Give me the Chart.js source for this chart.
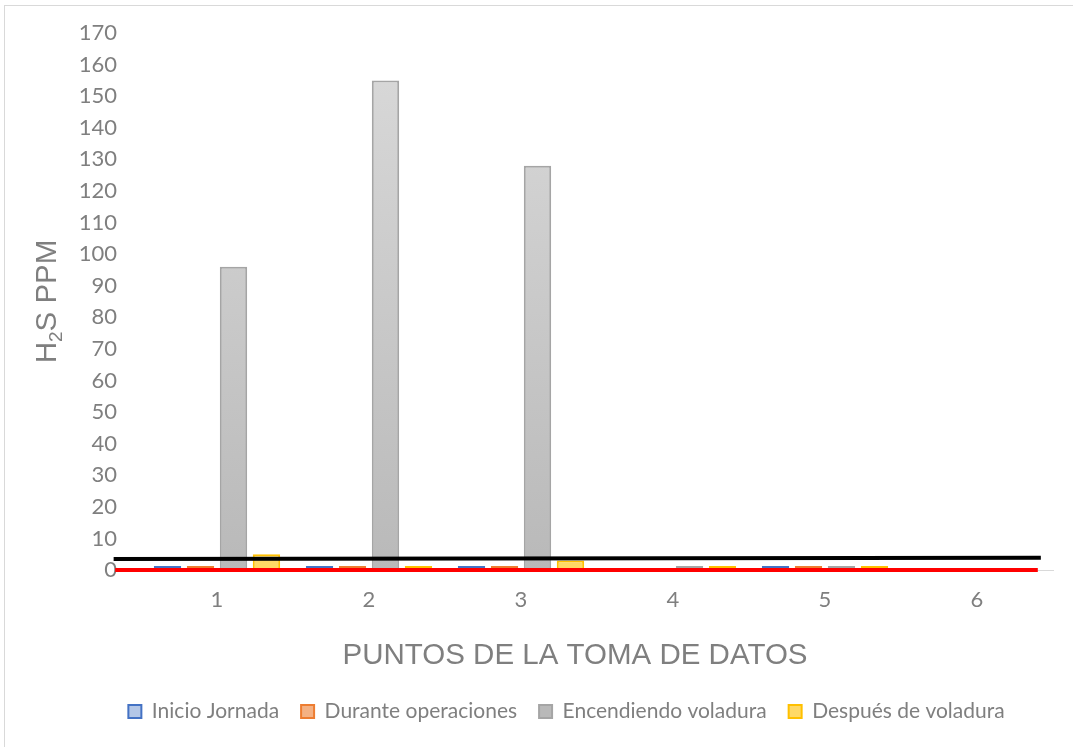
<!DOCTYPE html>
<html>
<head>
<meta charset="utf-8">
<script src="https://cdn.jsdelivr.net/npm/chart.js@4.4.1/dist/chart.umd.min.js"></script>
<style>
  html, body { margin: 0; padding: 0; background: #ffffff; overflow: hidden; }
  #wrap { position: relative; width: 1073px; height: 747px; overflow: hidden; }
  #frame { position: absolute; left: 4px; top: 5px; width: 1200px; height: 900px;
           border-left: 1px solid #d9d9d9; border-top: 1px solid #d9d9d9; pointer-events: none; }
  canvas { position: absolute; left: 0; top: 0; }
</style>
</head>
<body>
<div id="wrap">
  <canvas id="chart" width="1073" height="747"></canvas>
  <div id="frame"></div>
</div>
<script>
// Sampling points (x axis categories)
const categories = ['1', '2', '3', '4', '5', '6'];

// H2S readings in ppm for each moment of the shift
const inicioJornada       = [1.3, 1.3, 1.3, 0, 1.3, 0];
const duranteOperaciones  = [1.3, 1.3, 1.3, 0, 1.3, 0];
const encendiendoVoladura = [96, 155, 128, 1.3, 1.3, 0];
const despuesVoladura     = [5, 1.3, 3, 1.3, 1.3, 0];

// Value axis range
const yMin = 0;
const yMax = 170;
const yStep = 10;

// Reference lines across the plot: ppm at each end, ends given in category-index units
const lineaNegraPpm  = [3.5, 3.9];
const lineaNegraSpan = [-0.68, 5.42];
const lineaRojaPpm   = [0, 0];
const lineaRojaSpan  = [-0.67, 5.40];

const seriesNames = ['Inicio Jornada', 'Durante operaciones', 'Encendiendo voladura', 'Después de voladura'];

const axisTitleY = ['H', '2', 'S PPM'];
const axisTitleX = 'PUNTOS DE LA TOMA DE DATOS';

const TEXT_GRAY = '#7f7f7f';
const TICK_FONT = { family: 'Lato, "Open Sans", sans-serif', size: 22 };
const LEGEND_FONT = { family: 'Lato, "Open Sans", sans-serif', size: 21 };
const TITLE_FAMILY = '"Liberation Sans", Arial, sans-serif';

// Vertical gradient for the grey series
function greyGradient(context) {
  const chart = context.chart;
  const area = chart.chartArea;
  if (!area) return '#c8c8c8';
  const g = chart.ctx.createLinearGradient(0, area.top, 0, area.bottom);
  g.addColorStop(0, '#dadada');
  g.addColorStop(1, '#b9b9b9');
  return g;
}

// Axis titles: the y title carries a subscript, so both are drawn here
const axisTitles = {
  id: 'axisTitles',
  afterDraw(chart) {
    const ctx = chart.ctx;
    ctx.save();
    ctx.fillStyle = TEXT_GRAY;
    ctx.textBaseline = 'middle';

    ctx.font = '29.5px ' + TITLE_FAMILY;
    ctx.textAlign = 'center';
    ctx.fillText(axisTitleX, 575, 656);

    const big = '29.5px ' + TITLE_FAMILY;
    const small = '19px ' + TITLE_FAMILY;
    ctx.font = big;
    const w1 = ctx.measureText(axisTitleY[0]).width;
    const w3 = ctx.measureText(axisTitleY[2]).width;
    ctx.font = small;
    const w2 = ctx.measureText(axisTitleY[1]).width;
    const total = w1 + w2 + w3;
    ctx.translate(48, (chart.chartArea.top + chart.chartArea.bottom) / 2);
    ctx.rotate(-Math.PI / 2);
    ctx.textAlign = 'left';
    let x = -total / 2;
    ctx.font = big;
    ctx.fillText(axisTitleY[0], x, 0);
    x += w1;
    ctx.font = small;
    ctx.fillText(axisTitleY[1], x, 9);
    x += w2;
    ctx.font = big;
    ctx.fillText(axisTitleY[2], x, 0);
    ctx.restore();
  }
};

const barCommon = {
  type: 'bar',
  borderWidth: 2,
  borderSkipped: false,
  barPercentage: 0.83,
  categoryPercentage: 0.868,
  order: 2
};

function refLine(label, span, ppm, color, order) {
  return {
    type: 'line', label, order, clip: false, parsing: false,
    data: [{ x: span[0], y: ppm[0] }, { x: span[1], y: ppm[1] }],
    borderColor: color, borderWidth: 4, pointRadius: 0, borderCapStyle: 'butt'
  };
}

new Chart(document.getElementById('chart'), {
  type: 'bar',
  data: {
    labels: categories,
    datasets: [
      Object.assign({}, barCommon, { label: seriesNames[0], data: inicioJornada,
        backgroundColor: '#b4c7e7', borderColor: '#4472c4' }),
      Object.assign({}, barCommon, { label: seriesNames[1], data: duranteOperaciones,
        backgroundColor: '#f4b183', borderColor: '#ed7d31' }),
      Object.assign({}, barCommon, { label: seriesNames[2], data: encendiendoVoladura,
        backgroundColor: greyGradient, borderColor: '#a5a5a5' }),
      Object.assign({}, barCommon, { label: seriesNames[3], data: despuesVoladura,
        backgroundColor: '#ffd966', borderColor: '#ffc000' }),
      refLine('limite', lineaNegraSpan, lineaNegraPpm, '#000000', 1),
      refLine('base', lineaRojaSpan, lineaRojaPpm, '#ff0000', 0)
    ]
  },
  options: {
    responsive: false,
    animation: false,
    devicePixelRatio: 1,
    layout: { padding: { left: 80, right: 20, top: 33, bottom: 15 } },
    scales: {
      x: {
        type: 'category',
        offset: true,
        grid: { display: false, drawTicks: false },
        border: { display: true, color: '#d9d9d9', width: 1 },
        ticks: { color: TEXT_GRAY, font: TICK_FONT, padding: 17, maxRotation: 0 },
        afterFit(scale) { scale.height = 109; }
      },
      y: {
        min: yMin,
        max: yMax,
        grid: { display: false, drawTicks: false },
        border: { display: false },
        ticks: { stepSize: yStep, color: TEXT_GRAY, font: TICK_FONT, padding: 24 },
        afterFit(scale) {
          scale.width = 61;
          scale.paddingTop = 0;
          scale.paddingBottom = 0;
        }
      }
    },
    plugins: {
      legend: {
        position: 'bottom',
        labels: {
          color: TEXT_GRAY,
          font: LEGEND_FONT,
          boxWidth: 13,
          boxHeight: 13,
          padding: 22,
          filter: (item) => item.datasetIndex < 4
        }
      },
      tooltip: { enabled: false },
      title: { display: false }
    }
  },
  plugins: [axisTitles]
});
</script>
</body>
</html>
